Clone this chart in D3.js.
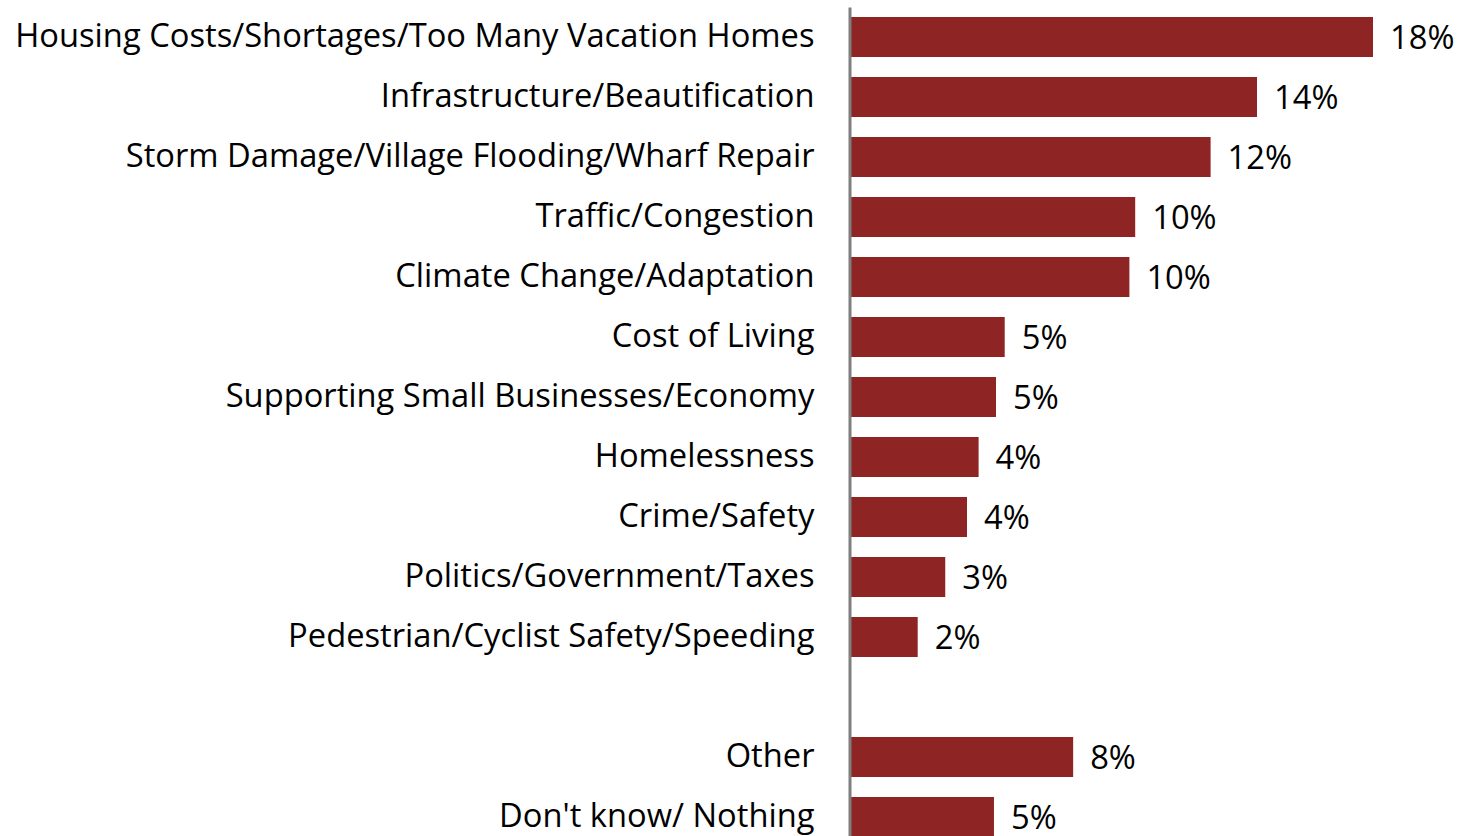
<!DOCTYPE html>
<html>
<head>
<meta charset="utf-8">
<script src="https://cdn.jsdelivr.net/npm/d3@7"></script>
<style>
  body { margin: 0; background: #fff; }
  text { font-family: "Open Sans", Lato, sans-serif; fill: #000; }
</style>
</head>
<body>
<div id="chart"></div>
<script>
// main issues, share of responses
var topics = [
    "Housing Costs/Shortages/Too Many Vacation Homes",
    "Infrastructure/Beautification",
    "Storm Damage/Village Flooding/Wharf Repair",
    "Traffic/Congestion",
    "Climate Change/Adaptation",
    "Cost of Living",
    "Supporting Small Businesses/Economy",
    "Homelessness",
    "Crime/Safety",
    "Politics/Government/Taxes",
    "Pedestrian/Cyclist Safety/Speeding"
];
var topicValues = [0.180, 0.140, 0.124, 0.098, 0.096, 0.053, 0.050, 0.044, 0.040, 0.0325, 0.023];

var otherCats = ["Other", "Don't know/ Nothing"];
var otherValues = [0.0766, 0.0493];

var GAP = "__gap__";

function drawBarChart(id, width, height) {
    var margin = { top: 7, right: 20, bottom: -11, left: 849.5 };
    var fontSize = '32.7px';

    var rows = topics.map((t, i) => ({ key: t, value: topicValues[i] }))
        .concat(otherCats.map((t, i) => ({ key: t, value: otherValues[i] })));
    var domain = topics.concat([GAP], otherCats);

    var innerH = height - margin.top - margin.bottom;

    var yScale = d3.scaleBand()
        .domain(domain)
        .range([0, innerH])
        .paddingInner(1 / 3)
        .paddingOuter(1 / 6);

    var xScale = d3.scaleLinear()
        .domain([0, 0.2])
        .range([1.5, 581.5]);

    var svg = d3.select('#' + id)
        .append('svg')
        .attr('width', width)
        .attr('height', height)
        .append('g')
        .attr('transform', `translate(${margin.left}, ${margin.top})`);

    svg.selectAll('.bar').data(rows)
        .enter()
        .append('rect')
        .attr('class', 'bar')
        .attr('x', xScale(0))
        .attr('y', d => yScale(d.key))
        .attr('width', d => xScale(d.value) - xScale(0))
        .attr('height', yScale.bandwidth())
        .style('fill', '#8f2424');

    // value labels, rounded to whole percent
    svg.selectAll('.val').data(rows)
        .enter()
        .append('text')
        .attr('class', 'val')
        .attr('x', d => xScale(d.value) + 17)
        .attr('y', d => yScale(d.key) + yScale.bandwidth() / 2)
        .attr('dy', '0.37em')
        .style('font-size', fontSize)
        .text(d => d3.format('.0%')(d.value));

    var yAxis = d3.axisLeft(yScale)
        .tickSize(0)
        .tickPadding(35)
        .tickFormat(d => d === GAP ? '' : d);

    var ax = svg.append('g')
        .attr('class', 'y axis')
        .call(yAxis);

    ax.select('.domain')
        .attr('stroke', '#7f7f7f')
        .attr('stroke-width', 3);

    ax.selectAll('text')
        .style('font-size', fontSize)
        .attr('dy', '0.32em');
}

drawBarChart('chart', 1458, 836);
</script>
</body>
</html>
